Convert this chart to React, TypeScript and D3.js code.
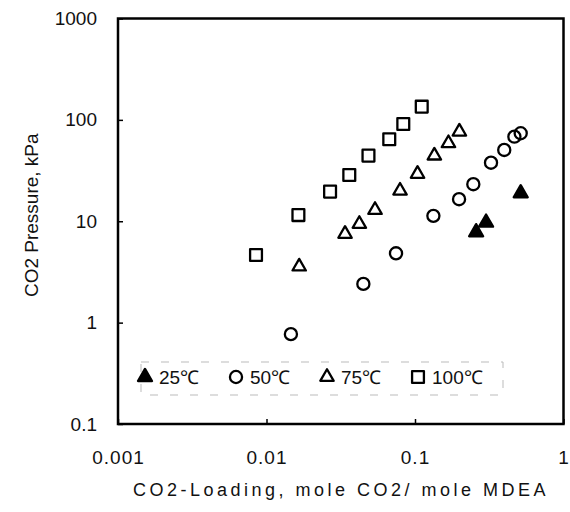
import React, { useEffect, useRef } from "react";
import * as d3 from "d3";

// CO2 loading (mol CO2 / mol MDEA) and CO2 pressure (kPa)
const loading25 = [0.258, 0.301, 0.515];
const pressure25 = [7.8, 9.7, 18.9];

const loading50 = [0.0146, 0.0449, 0.0745, 0.133, 0.198, 0.247, 0.325, 0.399, 0.467, 0.515];
const pressure50 = [0.77, 2.41, 4.83, 11.3, 16.5, 23.2, 37.8, 50.5, 68.3, 73.8];

const loading75 = [0.0166, 0.0338, 0.0422, 0.0538, 0.0793, 0.104, 0.135, 0.168, 0.199];
const pressure75 = [3.57, 7.5, 9.4, 12.9, 20.0, 29.3, 44.4, 58.8, 76.5];

const loading100 = [0.0085, 0.0164, 0.0268, 0.0361, 0.0486, 0.0671, 0.0834, 0.111];
const pressure100 = [4.65, 11.5, 19.6, 28.6, 44.4, 64.4, 91, 135];

const xTicks = [0.001, 0.01, 0.1, 1];
const yTicks = [0.1, 1, 10, 100, 1000];
const tempLabels = ["25℃", "50℃", "75℃", "100℃"];

const W = 570;
const H = 512;
const margin = { top: 18.5, right: 6.5, bottom: 88, left: 118 };
const FONT = "'Liberation Sans', Arial, sans-serif";

const App = () => {
  const ref = useRef(null);

  useEffect(() => {
    const svg = d3.select(ref.current);
    svg.selectAll("*").remove();

    const innerWidth = W - margin.left - margin.right;
    const innerHeight = H - margin.top - margin.bottom;

    const xScale = d3.scaleLog().domain([0.001, 1]).range([0, innerWidth]);
    const yScale = d3.scaleLog().domain([0.1, 1000]).range([innerHeight, 0]);

    const g = svg.append("g").attr("transform", `translate(${margin.left},${margin.top})`);

    const fmt = (d) => String(d);

    const xAxis = d3.axisBottom(xScale).tickValues(xTicks).tickSize(-5).tickPadding(27).tickFormat(fmt);
    const xAxisG = g.append("g").attr("transform", `translate(0,${innerHeight})`).call(xAxis);
    xAxisG.select(".domain").remove();
    xAxisG.selectAll("line").attr("stroke", "#000").attr("stroke-width", 1.5);
    xAxisG.selectAll("text")
      .attr("font-family", FONT)
      .attr("font-size", 19)
      .attr("letter-spacing", 1)
      .attr("fill", "#111");

    const yAxis = d3.axisLeft(yScale).tickValues(yTicks).tickSize(-5).tickPadding(21).tickFormat(fmt);
    const yAxisG = g.append("g").call(yAxis);
    yAxisG.select(".domain").remove();
    yAxisG.selectAll("line").attr("stroke", "#000").attr("stroke-width", 1.5);
    yAxisG.selectAll("text")
      .attr("font-family", FONT)
      .attr("font-size", 19)
      .attr("fill", "#111");

    // frame
    g.append("rect")
      .attr("width", innerWidth)
      .attr("height", innerHeight)
      .attr("fill", "none")
      .attr("stroke", "#000")
      .attr("stroke-width", 2.5);

    // axis labels
    svg.append("text")
      .attr("x", 341)
      .attr("y", 496)
      .attr("text-anchor", "middle")
      .attr("font-family", FONT)
      .attr("font-size", 18)
      .attr("letter-spacing", 3.5)
      .attr("fill", "#111")
      .text("CO2-Loading, mole CO2/ mole MDEA");

    svg.append("text")
      .attr("transform", `translate(38,${margin.top + innerHeight / 2 - 6}) rotate(-90)`)
      .attr("text-anchor", "middle")
      .attr("font-family", FONT)
      .attr("font-size", 19)
      .attr("fill", "#111")
      .text("CO2 Pressure, kPa");

    const series = [
      { xs: loading25, ys: pressure25, type: d3.symbolTriangle, size: 85, filled: true },
      { xs: loading50, ys: pressure50, type: d3.symbolCircle, size: 115, filled: false },
      { xs: loading75, ys: pressure75, type: d3.symbolTriangle, size: 78, filled: false },
      { xs: loading100, ys: pressure100, type: d3.symbolSquare, size: 140, filled: false },
    ];

    const drawSymbol = (sel, s) => {
      sel.attr("d", d3.symbol().type(s.type).size(s.size)())
        .attr("fill", s.filled ? "#000" : "none")
        .attr("stroke", "#000")
        .attr("stroke-width", 2.3)
        .attr("stroke-linejoin", "round");
    };

    series.forEach((s) => {
      g.append("g")
        .selectAll("path")
        .data(s.xs.map((x, i) => [x, s.ys[i]]))
        .join("path")
        .attr("transform", (d) => `translate(${xScale(d[0])},${yScale(d[1])})`)
        .call(drawSymbol, s);
    });

    // legend
    const legendX = d3.scalePoint().domain(tempLabels).range([145, 418]);
    const legendY = 377;
    svg.append("rect")
      .attr("x", 141)
      .attr("y", 362)
      .attr("width", 362)
      .attr("height", 33)
      .attr("fill", "none")
      .attr("stroke", "#bbb")
      .attr("stroke-width", 1)
      .attr("stroke-dasharray", "8 12");

    const items = svg.append("g")
      .selectAll("g")
      .data(tempLabels)
      .join("g")
      .attr("transform", (d) => `translate(${legendX(d)},${legendY})`);

    items.each(function (d, i) {
      const item = d3.select(this);
      item.append("path").call(drawSymbol, series[i]);
      item.append("text")
        .attr("x", 14)
        .attr("y", 7)
        .attr("font-family", FONT)
        .attr("font-size", 19)
        .attr("fill", "#111")
        .text(d);
    });
  }, []);

  return (
    <svg width={W} height={H} style={{ position: "absolute", left: 0, top: 0, background: "#fff" }}>
      <g ref={ref} />
    </svg>
  );
};

export default App;
